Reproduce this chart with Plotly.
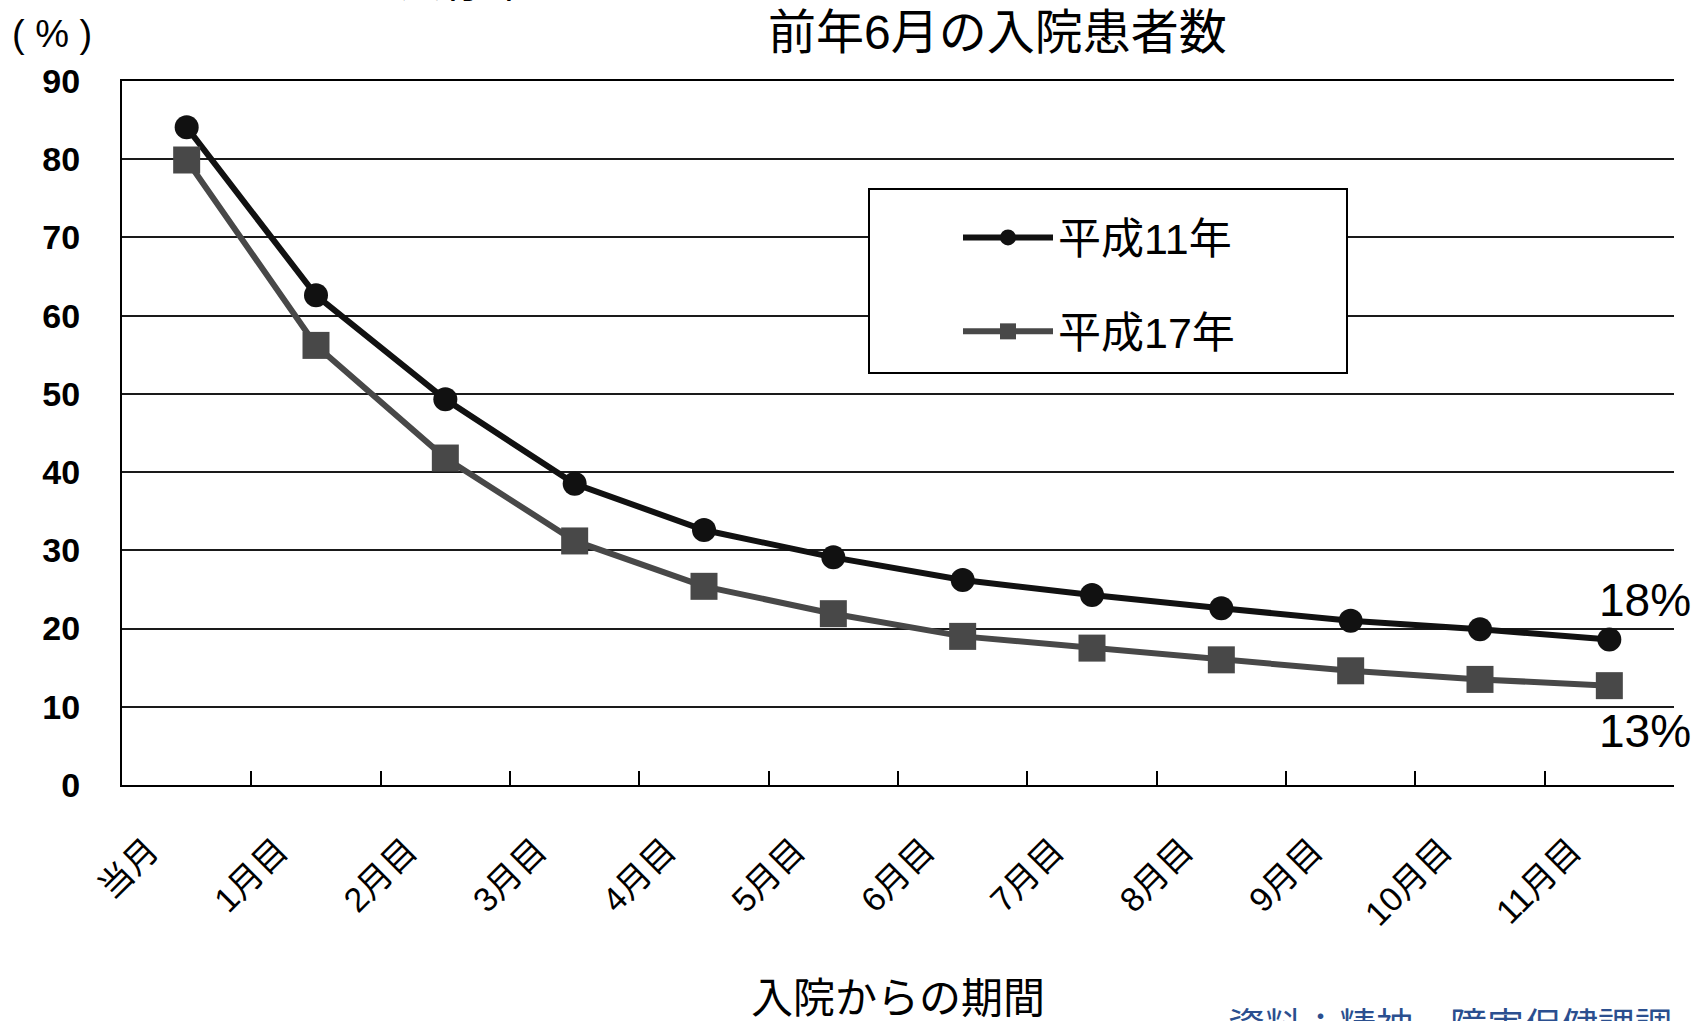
import plotly.graph_objects as go

categories = ["当月", "1月目", "2月目", "3月目", "4月目", "5月目", "6月目",
              "7月目", "8月目", "9月目", "10月目", "11月目"]
series_names = ["平成11年", "平成17年"]
h11 = [84.1, 62.6, 49.3, 38.5, 32.6, 29.1, 26.2, 24.3, 22.6, 21.0, 19.9, 18.6]
h17 = [79.9, 56.2, 41.8, 31.2, 25.4, 21.9, 19.0, 17.5, 16.0, 14.6, 13.5, 12.7]
end_labels = ["18%", "13%"]
y_ticks = [0, 10, 20, 30, 40, 50, 60, 70, 80, 90]

W, H = 1696, 1021
L, R, T, B = 122, 22, 81, 236
PW, PH = W - L - R, H - T - B

JP = "Liberation Sans, Arial, Noto Sans CJK JP, sans-serif"

def px_x(x):
    return (x - L) / PW

def px_y(y):
    return 1 - (y - T) / PH

fig = go.Figure()
fig.add_trace(go.Scatter(
    x=categories, y=h11, name=series_names[0], mode="lines+markers",
    line=dict(color="#111111", width=6),
    marker=dict(symbol="circle", size=24, color="#111111"),
    legendgroup="a",
))
fig.add_trace(go.Scatter(
    x=categories, y=h17, name=series_names[1], mode="lines+markers",
    line=dict(color="#484848", width=6),
    marker=dict(symbol="square", size=27, color="#484848"),
    legendgroup="b",
))

fig.update_layout(
    width=W, height=H,
    margin=dict(l=L, r=R, t=T, b=B, pad=0),
    paper_bgcolor="white", plot_bgcolor="white",
    font=dict(family=JP, color="black"),
    showlegend=True,
    legend=dict(
        x=px_x(958), y=px_y(203),
        xanchor="left", yanchor="top",
        bgcolor="rgba(0,0,0,0)", borderwidth=0,
        font=dict(size=43, family=JP, color="black"),
        itemwidth=90, tracegroupgap=35,
    ),
    shapes=[dict(type="rect", xref="paper", yref="paper",
                 x0=px_x(869), x1=px_x(1347), y0=px_y(373), y1=px_y(189),
                 line=dict(color="black", width=2), fillcolor="white", layer="above")],
)

fig.update_xaxes(
    type="category", tickson="boundaries", range=[-0.5, len(categories) - 0.5],
    ticks="inside", ticklen=14, tickwidth=2, tickcolor="black",
    showline=True, linecolor="black", linewidth=2, mirror=True,
    showgrid=False, zeroline=False,
    tickangle=-45, tickfont=dict(size=34, family=JP, color="black"),
    ticklabelstandoff=30, ticklabelshift=-38,
)
fig.update_yaxes(
    range=[0, 90], tickvals=y_ticks, ticks="",
    showline=True, linecolor="black", linewidth=2,
    showgrid=True, gridcolor="#1a1a1a", gridwidth=2, zeroline=False,
    tickfont=dict(size=34, family="Liberation Sans, Arial", color="black", weight="bold"),
    ticklabelstandoff=33,
)

annotations = [
    dict(text="前年6月の入院患者数", xref="paper", yref="paper", x=px_x(997),
         y=1, yshift=(T - 32), xanchor="center", yanchor="middle", showarrow=False,
         font=dict(size=48, family=JP, color="black")),
    dict(text="残存率", xref="paper", yref="paper", x=px_x(465),
         y=1, yshift=(T - 8), xanchor="center", yanchor="bottom", showarrow=False,
         font=dict(size=44, family=JP, color="black")),
    dict(text="( % )", xref="paper", yref="paper", x=0, xshift=-(L - 52),
         y=1, yshift=(T - 34), xanchor="center", yanchor="middle", showarrow=False,
         font=dict(size=38, family="Liberation Sans, Arial", color="black")),
    dict(text="入院からの期間", xref="paper", yref="paper", x=0.5,
         y=0, yshift=-(998 - 785), xanchor="center", yanchor="middle", showarrow=False,
         font=dict(size=42, family=JP, color="black")),
    dict(text="資料：精神・障害保健課調", xref="paper", yref="paper", x=1,
         y=0, yshift=-(995 - 785), xanchor="right", yanchor="top", showarrow=False,
         font=dict(size=37, family="Noto Sans CJK JP", color="#2b4f8f")),
    dict(text=end_labels[0], xref="paper", yref="y", x=1, xshift=19, y=h11[-1], yshift=40,
         xanchor="right", yanchor="middle", showarrow=False,
         font=dict(size=46, family="Liberation Sans, Arial", color="black")),
    dict(text=end_labels[1], xref="paper", yref="y", x=1, xshift=19, y=h17[-1], yshift=-45,
         xanchor="right", yanchor="middle", showarrow=False,
         font=dict(size=46, family="Liberation Sans, Arial", color="black")),
]
fig.update_layout(annotations=annotations)

fig.write_html("out.html", config={"displayModeBar": False},
               post_script="document.body.style.margin='0';")
